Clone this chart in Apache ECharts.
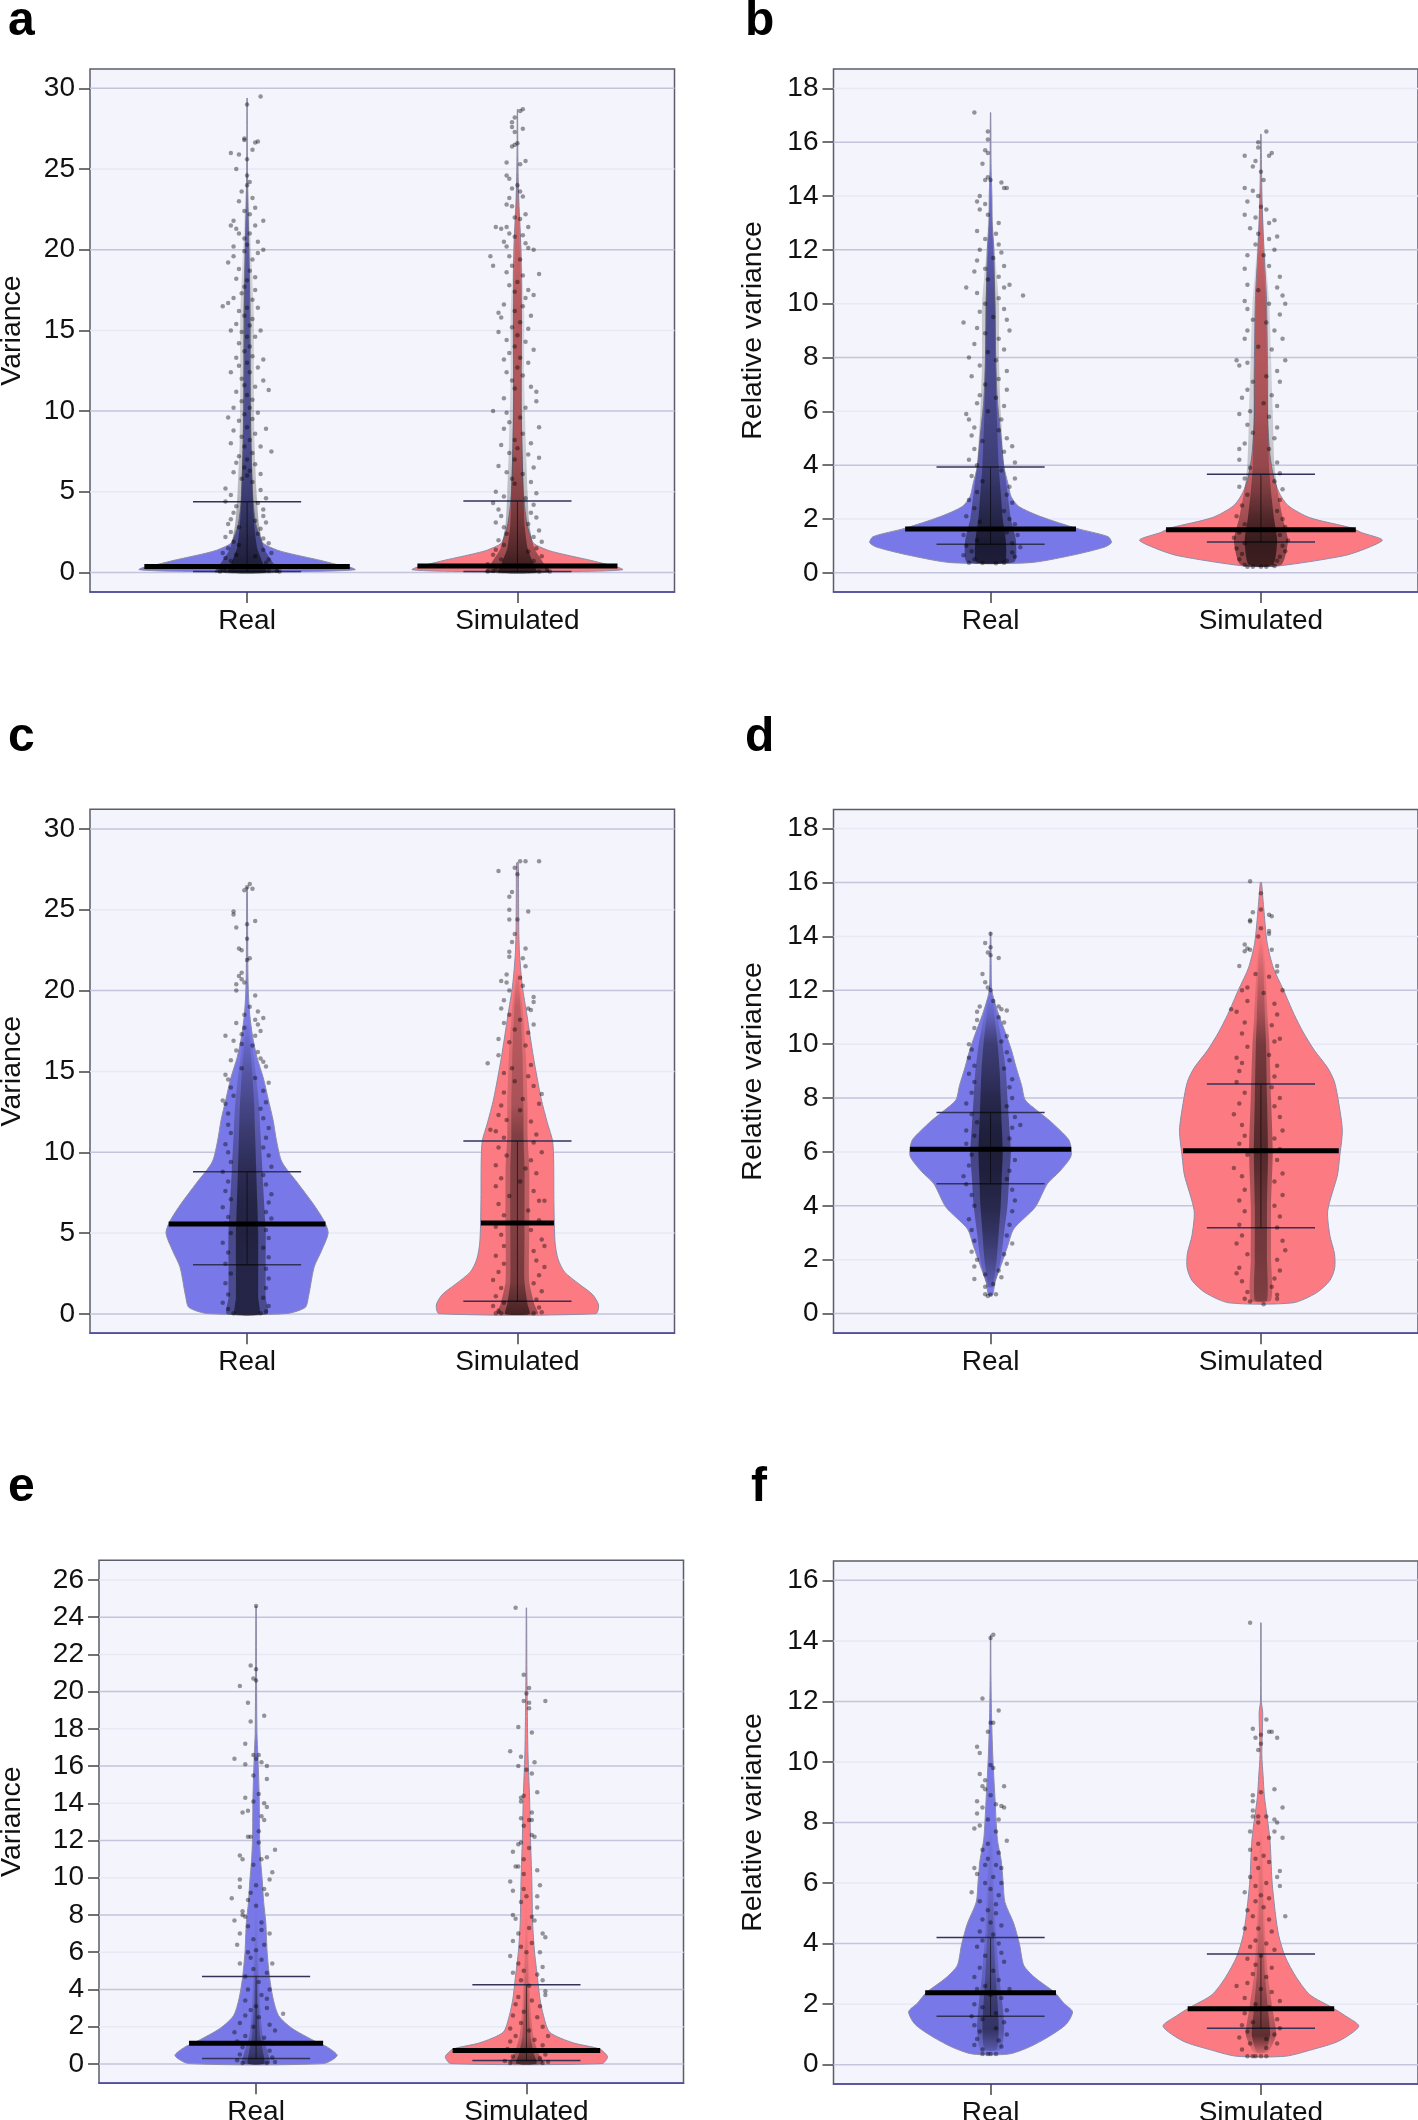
<!DOCTYPE html>
<html>
<head>
<meta charset="utf-8">
<title>Variance violins</title>
<script src="https://cdn.jsdelivr.net/npm/echarts@6/dist/echarts.min.js"></script>
<style>
html, body { margin: 0; padding: 0; background: #fff; }
#chart { width: 1418px; height: 2120px; }
</style>
</head>
<body>
<div id="chart"></div>
<script>
const categories = ['Real', 'Simulated']

// tick labels per panel, and which of them have the darker grid line
const ticksVar30 = [0, 5, 10, 15, 20, 25, 30]
const majorVar30 = [0, 10, 20, 30]
const ticksRel18 = [0, 2, 4, 6, 8, 10, 12, 14, 16, 18]
const majorRel18 = [0, 4, 8, 12, 16]
const ticksVar26 = [0, 2, 4, 6, 8, 10, 12, 14, 16, 18, 20, 22, 24, 26]
const majorVar26 = [0, 4, 8, 12, 16, 20, 24]
const ticksRel16 = [0, 2, 4, 6, 8, 10, 12, 14, 16]
const majorRel16 = [0, 4, 8, 12, 16]

// violin outlines: [value, half width in category units]
const aRealShape = [[0.03,0.05],[0.08,0.3],[0.17,0.4],[0.3,0.385],[0.5,0.33],[0.75,0.27],[0.97,0.21],[1.2,0.15],[1.39,0.11],[1.8,0.06],[2.4,0.043],[3,0.032],[4,0.024],[5,0.02],[7,0.016],[10,0.012],[13,0.011],[16,0.01],[20,0.007],[23,0.003],[26,0.001],[29.4,0.0005]]
const aSimShape = [[0.03,0.05],[0.08,0.3],[0.17,0.39],[0.3,0.375],[0.5,0.33],[0.75,0.27],[0.97,0.21],[1.2,0.15],[1.39,0.11],[1.8,0.06],[2.4,0.045],[3,0.035],[4,0.027],[5,0.022],[7,0.018],[10,0.014],[15,0.015],[20,0.013],[23,0.005],[25,0.002],[28.7,0.0005]]
const bRealShape = [[0.375,0.144],[0.64,0.296],[0.95,0.42],[1.12,0.447],[1.34,0.435],[1.65,0.318],[2.09,0.185],[2.46,0.105],[2.83,0.076],[3.33,0.064],[3.95,0.049],[5.2,0.037],[6.4,0.025],[8,0.019],[10,0.016],[12,0.012],[13,0.006],[14,0.005],[15,0.002],[17.1,0.0006]]
const bSimShape = [[0.25,0.06],[0.64,0.31],[0.95,0.4],[1.22,0.449],[1.5,0.37],[1.66,0.337],[2.05,0.18],[2.5,0.1],[3,0.066],[3.6,0.046],[4.4,0.033],[5.65,0.025],[7.2,0.025],[8.8,0.023],[10.3,0.02],[11.9,0.0115],[13.5,0.005],[14.4,0.003],[16.3,0.0006]]
const cRealShape = [[0.02,0.144],[0.4,0.215],[1.07,0.227],[2.9,0.248],[3.9,0.275],[5,0.3],[5.75,0.285],[6.8,0.245],[8.1,0.187],[9.4,0.129],[10.7,0.109],[12,0.096],[13.3,0.078],[14.6,0.06],[15.9,0.036],[17.2,0.02],[18.5,0.01],[19.8,0.005],[21.1,0.003],[23.7,0.002],[26.4,0.001]]
const cSimShape = [[0.02,0.29],[0.55,0.3],[1.2,0.278],[1.85,0.228],[2.6,0.174],[3.4,0.15],[4.45,0.139],[6.8,0.135],[9.4,0.134],[10.7,0.13],[11.75,0.112],[13.3,0.088],[15.9,0.059],[18.5,0.035],[20.3,0.018],[22.2,0.008],[23.7,0.005],[26.3,0.004],[27.9,0.003]]
const dRealShape = [[0.7,0.008],[1.17,0.016],[1.83,0.04],[2.5,0.063],[3.15,0.086],[3.95,0.165],[4.82,0.21],[5.27,0.255],[5.8,0.296],[6.14,0.298],[6.47,0.288],[7.13,0.222],[7.53,0.173],[7.93,0.128],[8.46,0.115],[9.12,0.095],[9.78,0.077],[10.45,0.054],[11.1,0.03],[11.64,0.013],[12.04,0.004],[13.1,0.002],[14.15,0.001]]
const dSimShape = [[0.4,0.118],[0.77,0.205],[1.23,0.255],[1.7,0.273],[2.23,0.272],[2.9,0.255],[3.82,0.247],[5.14,0.283],[5.8,0.291],[6.8,0.301],[7.8,0.288],[8.6,0.272],[9.12,0.247],[9.78,0.197],[10.45,0.156],[11.1,0.123],[12.04,0.082],[12.83,0.046],[13.76,0.023],[15.08,0.01],[16,0.002]]
const eRealShape = [[0.02,0.25],[0.45,0.3],[0.9,0.264],[1.24,0.215],[1.92,0.132],[2.6,0.083],[3.5,0.063],[4.63,0.05],[5.99,0.041],[7.57,0.036],[8.7,0.028],[9.83,0.023],[10.97,0.0165],[12.1,0.013],[14.36,0.0115],[16.6,0.0066],[17.75,0.0033],[21.1,0.0016],[24.6,0.0006]]
const eSimShape = [[0.02,0.28],[0.38,0.3],[0.79,0.272],[1.13,0.173],[1.7,0.086],[2.6,0.063],[3.5,0.05],[4.63,0.041],[6,0.03],[7.57,0.023],[9.83,0.02],[12.1,0.015],[14.36,0.0115],[16.6,0.0058],[18.9,0.0033],[21.1,0.0016],[24.5,0.0006]]
const fRealShape = [[0.35,0.066],[0.57,0.14],[0.92,0.214],[1.34,0.28],[1.75,0.303],[2.03,0.271],[2.38,0.238],[2.87,0.165],[3.28,0.123],[3.98,0.107],[4.67,0.0855],[5.37,0.053],[6.07,0.046],[6.76,0.039],[7.46,0.025],[8.85,0.016],[10.24,0.008],[11.63,0.0033],[13,0.0012],[14.2,0.0006]]
const fSimShape = [[0.28,0.09],[0.5,0.19],[0.78,0.288],[1.27,0.362],[1.61,0.313],[1.89,0.263],[2.31,0.181],[2.87,0.132],[3.56,0.09],[4.26,0.066],[4.95,0.054],[6.07,0.041],[7.46,0.033],[8.85,0.013],[9.54,0.008],[10.24,0.0033],[11.63,0.0066],[12,0.0016],[14.6,0.0005]]

// quartile and median lines: [q1, median, q3, median half width]
const aRealStats = [0.05, 0.36, 4.38, 0.38]
const aSimStats = [0.05, 0.4, 4.43, 0.37]
const bRealStats = [1.06, 1.63, 3.93, 0.316]
const bSimStats = [1.14, 1.6, 3.66, 0.351]
const cRealStats = [3.05, 5.57, 8.8, 0.29]
const cSimStats = [0.78, 5.63, 10.7, 0.135]
const dRealStats = [4.82, 6.1, 7.46, 0.298]
const dSimStats = [3.19, 6.04, 8.52, 0.288]
const eRealStats = [0.29, 1.11, 4.7, 0.248]
const eSimStats = [0.18, 0.72, 4.25, 0.273]
const fRealStats = [1.6, 2.38, 4.2, 0.242]
const fSimStats = [1.2, 1.85, 3.66, 0.271]

// the overplotted middle of each dot cloud, too dense to read one dot at a time:
// [value, half width, darkness]
const aRealCore = [[0,0.095,0.95],[0.5,0.08,0.95],[1.5,0.05,0.85],[3,0.035,0.7],[5,0.028,0.55],[8,0.022,0.4],[12,0.02,0.35],[16,0.02,0.35],[20,0.012,0.25],[23,0.006,0.15],[25,0.002,0]]
const aSimCore = [[0,0.095,0.95],[0.5,0.08,0.95],[1.5,0.05,0.8],[3,0.035,0.65],[5,0.03,0.5],[8,0.025,0.35],[12,0.02,0.3],[16,0.02,0.3],[20,0.012,0.2],[24,0.005,0.1],[26,0.002,0]]
const bRealCore = [[0.4,0.07,0.95],[1.2,0.075,1],[2,0.06,0.85],[3,0.05,0.7],[4,0.04,0.55],[6,0.03,0.45],[8,0.025,0.4],[10,0.025,0.4],[12,0.012,0.25],[14,0.004,0.1],[15,0.002,0]]
const bSimCore = [[0.3,0.06,0.95],[1.2,0.08,1],[2,0.065,0.85],[3,0.05,0.6],[4,0.04,0.45],[6,0.035,0.35],[8,0.03,0.3],[10,0.025,0.3],[12,0.012,0.2],[14,0.005,0.1],[15,0.002,0]]
const cRealCore = [[0,0.06,0.85],[1,0.055,0.85],[3,0.055,0.85],[5,0.055,0.9],[7,0.05,0.85],[9,0.045,0.75],[11,0.04,0.6],[13,0.035,0.45],[15,0.025,0.3],[17,0.012,0.12],[18,0.004,0]]
const cSimCore = [[0,0.06,0.9],[0.6,0.05,0.8],[2,0.035,0.6],[5,0.035,0.55],[9,0.035,0.55],[11,0.03,0.55],[13,0.03,0.35],[16,0.025,0.3],[19,0.015,0.25],[21,0.004,0.05]]
const dRealCore = [[1,0.01,0.2],[2,0.03,0.45],[3,0.04,0.65],[4,0.05,0.8],[5,0.055,0.9],[6,0.06,0.95],[7,0.055,0.9],[8,0.05,0.8],[9,0.045,0.65],[10,0.035,0.55],[11,0.02,0.2],[12,0.004,0]]
const dSimCore = [[0.5,0.03,0.55],[2,0.03,0.6],[4,0.03,0.65],[6,0.035,0.8],[8,0.03,0.7],[10,0.025,0.6],[11,0.02,0.4],[13,0.012,0.15],[14,0.004,0]]
const eRealCore = [[0.02,0.04,0.8],[0.6,0.035,0.6],[1.5,0.02,0.45],[3,0.012,0.3],[5,0.008,0.15],[7,0.005,0.05],[9,0.002,0]]
const eSimCore = [[0.02,0.05,0.85],[0.6,0.035,0.65],[1.5,0.02,0.4],[3,0.012,0.3],[5,0.008,0.15],[7,0.004,0.05],[9,0.002,0]]
const fRealCore = [[0.5,0.03,0.25],[1.2,0.04,0.65],[2,0.035,0.6],[3,0.025,0.4],[4.5,0.015,0.25],[6,0.01,0.1],[8,0.004,0]]
const fSimCore = [[0.4,0.02,0.15],[1,0.045,0.75],[1.8,0.035,0.55],[3,0.02,0.35],[4.5,0.012,0.2],[6,0.008,0.1],[8,0.003,0]]

// dots: [jitter in hundredths of a category, value]
const aRealDots = [[5,29.5],[0,29],[-1,26.9],[-1,26.8],[4,26.7],[3,26.65],[-6,26],[2,26.2],[-3,25.9],[0,25.6],[-4,25],[0,24.6],[1,24.2],[0,24],[-2,23.6],[-3,23],[2,23.2],[3,22.6],[-1,22.4],[1,22.2],[-5,21.8],[6,21.8],[-6,21.5],[-4,21.3],[3,21.5],[-3,21],[1,21],[-1,20.7],[4,20.5],[-5,20.2],[6,20],[0,20.3],[-1,19.9],[-5,19.6],[4,19.8],[-7,19.2],[2,19.4],[-3,18.8],[1,18.7],[-4,18.2],[3,18.3],[0,18.1],[-1,17.7],[3,17.5],[-2,17.3],[-9,16.5],[-7,16.7],[-5,17],[2,16.9],[0,16.4],[-3,16.2],[4,16.4],[-1,15.9],[2,15.7],[-4,15.4],[1,15.3],[5,15],[-2,14.9],[-6,15],[0,14.6],[3,14.6],[-3,14.2],[1,14],[-1,13.7],[6,13.2],[-4,13.3],[2,13.4],[0,13],[-3,12.8],[4,12.7],[-6,12.4],[1,12.4],[-2,12],[6,11.9],[-1,11.6],[3,11.5],[8,11.3],[-4,11.2],[0,11],[-2,10.6],[2,10.7],[-5,10.2],[1,10.2],[-1,9.8],[4,9.9],[-7,9.6],[2,9.5],[-3,9.4],[0,9],[7,8.9],[-5,8.8],[3,8.6],[-2,8.4],[1,8.2],[-6,8],[5,7.8],[-1,7.8],[9,7.5],[2,7.4],[-3,7.2],[0,7],[-4,6.8],[3,6.7],[-1,6.5],[1,6.3],[-5,6.2],[5,6.1],[0,6],[-2,5.8],[2,5.6],[-8,5.2],[5,5.1],[-6,4.8],[7,4.6],[-8,4.4],[4,4.3],[-4,4.1],[6,3.9],[-5,3.7],[6,3.5],[-6,3.3],[3,3.2],[-7,3],[7,3.1],[-3,2.8],[5,2.7],[-6,2.5],[4,2.4],[-8,2.2],[6,2.1],[-5,1.9],[8,1.8],[-3,1.7],[-7,1.5],[6,1.4],[-9,1.2],[9,1.2],[-4,1.1],[3,1],[-8,0.9],[8,0.8],[-6,0.7],[7,0.6],[-10,0.4],[10,0.4],[-9,0.2],[11,0.1],[-8,0.1],[8,0.1],[12,0.05],[-10,0.05]]
const aSimDots = [[2,28.7],[1,28.6],[-1,28.2],[-2,27.9],[-2,27.6],[2,27.5],[-1,27.3],[-1,26.5],[-2,26.4],[0,26.6],[3,25.5],[-4,25.4],[1,25.3],[-4,24.6],[-3,24.4],[0,24],[-2,23.8],[1,23.6],[-3,23.2],[2,23.3],[-4,22.8],[-2,22.7],[3,22.2],[-1,22],[1,21.9],[-8,21.4],[-6,21.3],[-4,21.4],[-3,21],[4,21.4],[-1,20.8],[2,20.9],[-5,20.5],[3,20.4],[-4,20.2],[6,20],[4,20.1],[-10,19.6],[-9,19],[-3,19.6],[1,19.4],[-2,19],[8,18.5],[-4,18.6],[2,18.4],[0,18],[-3,17.8],[4,17.5],[-1,17.4],[6,17.2],[3,17],[-5,16.6],[-7,16.1],[2,16.5],[-1,16.2],[5,15.9],[-6,15.8],[1,15.5],[-2,15.2],[4,15.1],[-7,14.9],[0,14.7],[-4,14.4],[3,14.3],[-1,14],[6,13.8],[-3,13.6],[1,13.3],[-5,13.2],[4,13],[0,12.7],[-4,12.4],[2,12.2],[-2,11.9],[5,11.5],[7,11.2],[-1,11.4],[-5,10.8],[7,10.6],[-9,10],[3,10.2],[-4,9.9],[1,9.6],[-3,9.3],[8,9],[-5,8.9],[2,8.6],[-1,8.2],[5,8],[-6,7.9],[0,7.7],[-3,7.4],[4,7.3],[8,7.1],[-1,7],[-7,6.6],[6,6.5],[-4,6.2],[2,6.1],[-2,5.8],[5,5.6],[-1,5.5],[-8,5],[7,4.9],[-5,4.7],[3,4.6],[-9,4.3],[6,4.2],[-7,3.9],[5,3.7],[-6,3.5],[7,3.4],[-8,3.1],[4,3],[-5,2.8],[8,2.6],[-4,2.4],[6,2.2],[-7,2],[9,1.9],[-5,1.7],[7,1.5],[-8,1.4],[4,1.3],[-9,1.1],[9,1],[-6,0.8],[6,0.7],[-11,0.5],[10,0.4],[-8,0.2],[11,0.15],[-9,0.08],[8,0.05],[-11,0.05],[12,0.05]]
const bRealDots = [[-6,17.1],[-1,16.4],[-1,16.1],[-2,15.7],[-1,15.6],[-3,15.2],[-1,14.7],[-2,14.6],[0,14.6],[4,14.5],[5,14.3],[6,14.3],[-4,14],[-5,13.8],[-2,13.7],[-4,13.5],[-1,13.3],[3,13],[-5,12.7],[2,12.6],[-2,12.4],[3,12.2],[-4,12],[4,11.9],[-5,11.6],[1,11.7],[-2,11.3],[5,11.4],[-6,11.2],[3,11],[-1,10.9],[-9,10.6],[7,10.7],[5,10.6],[-5,10.4],[12,10.3],[3,10.2],[-2,10],[5,9.8],[-4,9.7],[1,9.5],[-10,9.3],[6,9.4],[-5,9.1],[7,9],[-2,8.9],[3,8.7],[-6,8.5],[5,8.3],[-1,8.2],[-8,8],[2,7.9],[-4,7.7],[6,7.5],[-7,7.3],[3,7.2],[-2,7],[6,6.8],[-4,6.6],[2,6.5],[-5,6.3],[5,6.2],[-1,6],[-9,5.9],[-8,5.7],[4,5.7],[-6,5.4],[3,5.3],[-7,5.1],[6,5],[-3,4.9],[8,4.7],[-6,4.6],[5,4.5],[-8,4.2],[9,4.1],[-5,4],[4,3.8],[-7,3.6],[9,3.5],[-3,3.4],[7,3.2],[-5,3],[6,2.9],[-8,2.7],[8,2.6],[-6,2.4],[5,2.3],[-9,2.1],[7,2],[-4,1.9],[9,1.8],[-8,1.6],[6,1.5],[-10,1.4],[10,1.4],[-5,1.2],[8,1.1],[-9,1],[11,0.95],[-7,0.8],[8,0.75],[-10,0.65],[9,0.6],[-6,0.5],[6,0.45],[-8,0.37],[5,0.37],[-3,0.36],[2,0.35]]
const bSimDots = [[2,16.4],[-1,16],[-1,15.8],[4,15.6],[-6,15.5],[3,15.5],[-2,15.3],[-3,15.1],[0,14.9],[1,14.6],[-6,14.3],[-3,14.2],[-1,14],[-5,13.8],[0,13.6],[2,13.5],[-6,13.3],[-2,13.2],[3,13],[5,13.1],[-4,12.8],[-1,12.6],[3,12.4],[6,12.5],[-2,12.2],[5,12],[-5,11.8],[1,11.8],[-6,11.3],[3,11.4],[7,11],[-5,10.7],[6,10.6],[-1,10.5],[8,10.3],[-6,10.1],[9,10],[3,10],[-5,9.8],[7,9.6],[-3,9.4],[2,9.3],[-5,9],[5,9],[8,8.7],[-6,8.7],[-1,8.4],[4,8.3],[9,7.9],[-9,7.9],[-8,7.7],[-5,7.8],[6,7.5],[2,7.3],[-3,7.1],[7,7.1],[-5,6.8],[4,6.6],[-7,6.5],[1,6.3],[6,6.2],[-4,6],[-8,5.9],[3,5.8],[-5,5.5],[6,5.4],[-3,5.2],[5,5],[-6,4.8],[-8,4.6],[3,4.6],[-8,4.2],[6,4.1],[-4,3.9],[7,3.7],[-6,3.5],[5,3.4],[-8,3.2],[8,3.1],[-5,2.9],[7,2.7],[-7,2.5],[6,2.3],[-9,2.1],[8,2],[-6,1.8],[9,1.7],[-8,1.5],[7,1.4],[-10,1.3],[10,1.2],[-6,1.1],[8,1],[-9,0.9],[9,0.8],[-7,0.7],[7,0.6],[-8,0.5],[6,0.45],[-6,0.3],[5,0.25],[-3,0.22],[2,0.22],[-5,0.22],[0,0.22]]
const cRealDots = [[1,26.6],[0,26.4],[2,26.3],[-1,26.2],[-5,24.9],[-5,24.7],[3,24.3],[-4,23.9],[0,24.1],[0,23.2],[-3,22.6],[-2,22.5],[1,22],[0,21.9],[-2,21.1],[-3,20.9],[-2,20.7],[-1,20.5],[-4,20.4],[-4,20],[3,19.7],[1,19],[4,18.7],[-1,18.5],[6,18.3],[3,18.2],[-4,18],[4,17.9],[-1,17.7],[5,17.5],[-8,17.2],[-2,17.3],[3,17.2],[-5,16.9],[-2,16.7],[2,16.6],[-4,16.3],[4,16.2],[5,15.8],[-6,15.7],[6,15.6],[7,15.3],[-2,15.2],[-8,14.8],[-7,14.5],[8,14.3],[3,14.6],[-6,14],[6,13.8],[-5,13.5],[-9,13.2],[-8,13],[7,13.1],[5,12.7],[-7,12.4],[6,12.1],[-7,11.7],[8,11.5],[-6,11.2],[7,10.9],[-8,10.5],[6,10.3],[-7,10],[8,9.8],[-6,9.4],[9,9.1],[-9,8.8],[6,8.6],[-7,8.2],[7,8],[-8,7.6],[9,7.4],[-6,7.1],[8,6.9],[-9,6.6],[7,6.3],[-7,6],[9,5.9],[-8,5.6],[7,5.2],[-6,5],[8,4.7],[-9,4.4],[6,4.1],[-7,3.8],[8,3.5],[-8,3.1],[7,2.8],[-6,2.5],[8,2.2],[-8,1.9],[7,1.6],[-7,1.2],[6,1],[-9,0.7],[8,0.5],[-7,0.3],[7,0.15],[-5,0.05],[5,0.05]]
const cSimDots = [[1,28],[8,28],[3,28],[-7,27.4],[-1,27.6],[0,27.2],[-2,26.1],[-3,25.8],[-3,25],[4,24.9],[-3,24.4],[0,24.4],[-1,23.5],[-2,23],[3,22.6],[-3,22.4],[-3,22.1],[2,22],[3,21.5],[-4,21],[1,20.8],[-6,20.6],[-4,20.5],[2,20.3],[-3,20],[6,19.6],[-5,19.4],[6,19.3],[-6,18.9],[4,18.9],[5,18.8],[-3,18.5],[1,18.2],[-5,18],[6,17.9],[-1,17.6],[4,17.4],[-7,17],[-3,16.8],[3,16.6],[-7,16],[-11,15.5],[5,15.4],[-2,15.2],[-5,14.9],[4,14.7],[-1,14.4],[6,14.1],[9,13.6],[-5,13.7],[2,13.3],[-6,12.9],[8,13],[1,12.6],[-7,12.3],[-4,12],[5,11.9],[-10,11.4],[-8,11.3],[7,11.1],[-5,10.9],[6,10.6],[-7,10.3],[9,10],[-4,9.8],[5,9.5],[-8,9.2],[3,9],[7,8.7],[-6,8.4],[1,8.2],[-8,7.9],[6,7.6],[-3,7.3],[8,7],[-7,6.8],[10,7],[4,6.4],[-5,6.1],[8,5.8],[-8,5.4],[5,5.2],[-6,4.9],[9,4.6],[10,4.2],[-5,4.2],[6,3.9],[-8,3.6],[7,3.3],[-5,3.1],[10,2.9],[-7,2.6],[8,2.4],[-9,2.1],[6,1.9],[-6,1.6],[9,1.4],[-8,1.1],[7,0.9],[-5,0.7],[-9,0.5],[8,0.4],[-7,0.2],[9,0.1],[-6,0.05],[6,0.05],[-8,0.05]]
const dRealDots = [[-2,13.75],[0,14.1],[0,13.6],[-1,13.4],[0,13.3],[3,13.2],[-3,12.6],[-2,12.3],[0,12],[-1,12.1],[1,11.6],[3,11.4],[-4,11.4],[-5,11.2],[4,11.3],[6,11.25],[-5,10.9],[3,11],[5,10.8],[-6,10.6],[6,10.3],[-8,10],[4,10.1],[-7,9.8],[6,9.7],[-8,9.5],[7,9.4],[-6,9.2],[5,9.1],[-8,8.9],[8,8.7],[-6,8.6],[7,8.4],[-7,8.2],[8,8],[-9,7.8],[6,7.7],[-7,7.4],[9,7.3],[-5,7.1],[11,7],[8,6.9],[-9,6.8],[-6,6.6],[7,6.5],[-9,6.3],[8,6.1],[-7,5.9],[9,5.7],[-8,5.5],[7,5.3],[-10,5.1],[6,5],[-9,4.8],[8,4.6],[-7,4.4],[9,4.2],[-6,4],[8,3.8],[-8,3.5],[7,3.3],[-7,3.1],[6,2.9],[-6,2.7],[8,2.6],[-7,2.3],[5,2.2],[-5,2],[6,1.85],[-6,1.75],[3,1.6],[-2,1.45],[4,1.35],[-6,1.28],[1,1.1],[-2,1],[-2,0.72],[0,0.7],[-1,0.65],[2,0.72]]
const dSimDots = [[-4,16.05],[0,15.6],[0,15],[-3,14.9],[3,14.8],[4,14.75],[-4,14.6],[-4,14.55],[0,14.3],[3,14.2],[3,14.1],[-1,14],[-6,13.7],[-5,13.55],[-6,13.45],[-4,13.5],[4,13.5],[-8,12.9],[6,12.9],[6,12.7],[-2,12.6],[3,12.5],[-5,12.1],[8,12],[-7,12],[1,11.9],[-5,11.6],[5,11.5],[-11,11.3],[-9,11.2],[6,11.1],[-6,10.8],[4,10.7],[-7,10.4],[7,10.2],[5,10.1],[-5,9.9],[-9,9.5],[3,9.6],[-7,9.3],[6,9.2],[-8,9],[5,8.8],[-9,8.6],[4,8.4],[-6,8.2],[7,8],[-8,7.8],[5,7.7],[-10,7.4],[7,7.3],[-7,7],[8,6.8],[-6,6.6],[5,6.5],[-8,6.3],[7,6.1],[-5,5.9],[6,5.7],[-10,5.4],[8,5.2],[-7,5.1],[5,4.9],[-6,4.6],[8,4.4],[-8,4.2],[5,4],[-6,3.8],[7,3.6],[-8,3.3],[6,3.2],[-7,2.9],[8,2.7],[-9,2.6],[9,2.35],[-5,2.2],[6,2],[-8,1.7],[7,1.6],[-9,1.5],[5,1.3],[-7,1.2],[4,1],[-5,0.8],[6,0.7],[-6,0.55],[-4,0.45],[1,0.35],[6,0.55]]
const eRealDots = [[0,24.6],[-2,21.4],[0,21.2],[-1,20.7],[0,20.6],[-6,20.3],[-3,19.4],[3,18.7],[-2,18.4],[-4,17.2],[-1,16.6],[1,16.6],[-8,16.4],[0,16.4],[2,16.2],[-4,16.1],[4,16],[-1,15.5],[4,15.3],[-4,14.3],[-1,14.1],[1,14.5],[3,14],[4,13.8],[-5,13.5],[-3,13.6],[2,13.3],[3,13.1],[1,12.5],[-3,12.2],[-2,12.2],[1,11.9],[7,11.5],[-6,11.2],[-5,11],[4,11.1],[2,11],[-1,10.7],[6,10.3],[5,9.9],[-6,9.9],[0,9.6],[-6,9.5],[3,9.4],[-2,9.2],[4,9.1],[-9,8.9],[-3,8.8],[0,8.5],[-5,8.2],[-5,8],[-4,7.9],[2,7.6],[-8,7.7],[-3,7.4],[2,7.2],[-6,7],[5,7],[-1,6.7],[-7,6.4],[3,6.4],[0,6.1],[-3,6],[-2,5.7],[2,5.6],[-6,5.4],[6,5.4],[-1,5.1],[4,4.9],[-4,4.7],[1,4.4],[5,4],[-3,4],[2,3.7],[4,3.5],[-4,3.4],[0,3.1],[4,3],[-2,2.9],[10,2.7],[-4,2.6],[1,2.5],[-6,2.2],[5,2.1],[-1,2],[7,1.8],[-8,1.7],[-4,1.5],[3,1.4],[-7,1.2],[6,1.1],[-5,0.9],[5,0.7],[-6,0.5],[6,0.35],[-7,0.2],[7,0.1],[-5,0.05],[4,0.05]]
const eSimDots = [[-4,24.5],[-1,20.9],[1,20.2],[0,19.9],[-1,19.5],[7,19.5],[1,19.4],[1,19.1],[-3,18.1],[2,17.8],[-6,16.8],[-2,16.5],[3,16.2],[-3,16],[0,15.8],[2,15.6],[4,14.6],[-2,14.3],[-1,14.4],[-2,14.1],[2,13.5],[-2,13.2],[1,13.1],[2,13.1],[-1,12.8],[2,12.3],[3,12.2],[-2,11.9],[-3,11.8],[1,11.6],[-5,11.4],[-1,11],[-3,10.6],[-4,10.6],[4,10.4],[-1,10.2],[-6,9.8],[5,9.6],[-5,9.3],[-1,9.4],[0,9],[4,9],[-2,8.7],[4,8.4],[2,7.9],[-5,8],[-4,7.8],[3,7.7],[1,7.3],[6,7],[-3,7],[7,6.8],[-5,6.6],[2,6.5],[-2,6.3],[5,6],[0,6],[-6,5.8],[-3,5.4],[6,5.2],[-1,5],[4,4.8],[-5,4.9],[6,4.5],[-2,4.5],[1,4.2],[7,3.9],[7,3.7],[-3,3.6],[2,3.4],[-4,3.2],[5,3.1],[-1,2.8],[-5,2.6],[4,2.5],[-2,2.2],[6,2],[-6,1.9],[1,1.8],[8,1.5],[-4,1.5],[3,1.3],[-6,1.2],[6,1],[-7,0.8],[-3,0.7],[7,0.5],[-5,0.4],[5,0.3],[-8,0.15],[8,0.1],[-6,0.05],[6,0.05]]
const fRealDots = [[1,14.2],[0,14.1],[-3,12.1],[3,11.7],[0,11.3],[1,11.3],[-1,11],[-5,10.5],[-4,10.3],[0,9.9],[1,9.8],[-4,9.6],[-2,9.4],[-3,9.2],[5,9.2],[-2,9.1],[0,8.9],[-5,8.7],[-3,8.5],[2,8.6],[5,8.5],[4,8.55],[-5,8.3],[-1,8.1],[3,8.1],[-6,7.8],[-4,7.9],[2,7.7],[6,7.4],[-1,7.3],[-3,7.1],[3,7],[-1,6.8],[-2,6.6],[2,6.6],[-6,6.5],[4,6.5],[-5,6.3],[1,6.2],[4,6],[-2,6],[0,5.8],[-7,5.7],[3,5.6],[-4,5.4],[2,5.3],[-1,5.1],[2,5],[-3,4.8],[0,4.7],[4,4.6],[-4,4.4],[1,4.3],[-3,4.1],[3,4],[-5,3.9],[4,3.7],[-2,3.6],[5,3.4],[-4,3.2],[1,3.1],[-6,2.9],[3,2.8],[-2,2.6],[7,2.5],[-5,2.5],[0,2.3],[4,2.2],[-6,2],[-3,1.9],[6,1.8],[2,1.7],[-7,1.6],[-3,1.5],[5,1.4],[-6,1.3],[2,1.2],[-4,1.1],[6,1],[-5,0.85],[3,0.8],[-6,0.65],[4,0.6],[-3,0.5],[0,0.35],[-3,0.35],[2,0.35],[-1,0.35]]
const fSimDots = [[-4,14.6],[2,11.4],[-3,11.1],[-2,10.8],[3,11],[4,11],[6,10.8],[0,10.9],[-1,10.4],[0,10.6],[5,9.1],[-3,8.9],[-3,8.7],[0,9],[-3,8.4],[-3,8.2],[8,8.5],[-1,8.2],[2,8.2],[5,8.1],[-1,8],[6,8],[-4,7.7],[5,7.7],[3,7.5],[8,7.5],[-1,7.3],[-4,7.1],[1,6.9],[-2,6.8],[3,6.7],[-1,6.5],[7,6.4],[6,6.2],[-4,6.2],[2,6],[-2,5.9],[7,5.9],[0,5.6],[-6,5.7],[3,5.5],[-2,5.4],[-5,5.1],[1,5.2],[9,4.9],[-3,4.9],[3,4.8],[-1,4.5],[-6,4.5],[4,4.4],[-2,4.1],[2,4],[-4,3.9],[5,3.8],[0,3.6],[-5,3.5],[-2,3.3],[4,3.2],[-3,3],[2,2.9],[-5,2.7],[-9,2.6],[0,2.5],[4,2.4],[-6,2.2],[7,2.1],[-2,2],[3,1.9],[-6,1.7],[6,1.5],[-3,1.4],[-7,1.3],[7,1.2],[-5,1.1],[5,1],[-8,0.9],[2,0.85],[-4,0.7],[6,0.7],[-7,0.5],[2,0.55],[-5,0.28],[-2,0.28],[0,0.28],[2,0.28],[-3,0.28]]

const BLUE = '#7878e8'
const RED = '#fc7b82'
const FONT = '"Liberation Sans", Arial, sans-serif'

const panels = [
  { letter: 'a', lx: 8, ly: 46, left: 90, top: 69, h: 523, ymin: -1.215, ymax: 31.2, ticks: ticksVar30, major: majorVar30, name: 'Variance', gap: 63,
    real: [aRealShape, aRealStats, aRealDots, aRealCore], sim: [aSimShape, aSimStats, aSimDots, aSimCore] },
  { letter: 'b', lx: 745, ly: 46, left: 833.5, top: 69, h: 523, ymin: -0.714, ymax: 18.72, ticks: ticksRel18, major: majorRel18, name: 'Relative variance', gap: 66,
    real: [bRealShape, bRealStats, bRealDots, bRealCore], sim: [bSimShape, bSimStats, bSimDots, bSimCore] },
  { letter: 'c', lx: 8, ly: 762, left: 90, top: 809.2, h: 524, ymin: -1.19, ymax: 31.22, ticks: ticksVar30, major: majorVar30, name: 'Variance', gap: 63,
    real: [cRealShape, cRealStats, cRealDots, cRealCore], sim: [cSimShape, cSimStats, cSimDots, cSimCore] },
  { letter: 'd', lx: 745, ly: 762, left: 833.5, top: 809.6, h: 523.6, ymin: -0.727, ymax: 18.705, ticks: ticksRel18, major: majorRel18, name: 'Relative variance', gap: 66,
    real: [dRealShape, dRealStats, dRealDots, dRealCore], sim: [dSimShape, dSimStats, dSimDots, dSimCore] },
  { letter: 'e', lx: 8, ly: 1512, left: 99, top: 1560.2, h: 523, ymin: -1.037, ymax: 27.06, ticks: ticksVar26, major: majorVar26, name: 'Variance', gap: 72,
    real: [eRealShape, eRealStats, eRealDots, eRealCore], sim: [eSimShape, eSimStats, eSimDots, eSimCore] },
  { letter: 'f', lx: 751, ly: 1512, left: 833.5, top: 1561, h: 523, ymin: -0.638, ymax: 16.64, ticks: ticksRel16, major: majorRel16, name: 'Relative variance', gap: 66,
    real: [fRealShape, fRealStats, fRealDots, fRealCore], sim: [fSimShape, fSimStats, fSimDots, fSimCore] }
]

function gridLineSeries(i, p) {
  return {
    type: 'custom', coordinateSystem: 'cartesian2d', xAxisIndex: i, yAxisIndex: i, silent: true, z: 1,
    data: p.ticks.map(t => [0, t]),
    renderItem(params, api) {
      const v = api.value(1)
      const a = api.coord([-0.581, v])
      const b = api.coord([1.581, v])
      return {
        type: 'line',
        shape: { x1: a[0], y1: a[1], x2: b[0], y2: b[1] },
        style: { stroke: p.major.includes(v) ? '#c4c4dc' : '#e8e8f6', lineWidth: 1.5 }
      }
    }
  }
}

function violinSeries(i, cat, shape, color) {
  return {
    type: 'custom', coordinateSystem: 'cartesian2d', xAxisIndex: i, yAxisIndex: i, silent: true, z: 2,
    data: [[cat, shape[0][0]]],
    renderItem(params, api) {
      const left = shape.map(r => api.coord([cat - r[1], r[0]]))
      const right = shape.map(r => api.coord([cat + r[1], r[0]])).reverse()
      return { type: 'polygon', shape: { points: left.concat(right), smooth: 0.25 }, style: { fill: color, stroke: '#8c8ca6', lineWidth: 1 } }
    }
  }
}

function coreSeries(i, cat, core) {
  const top = core[core.length - 1][0]
  const bottom = core[0][0]
  const stops = core.slice().reverse().map(r => ({ offset: (top - r[0]) / (top - bottom), color: 'rgba(0,0,0,' + r[2] + ')' }))
  return {
    type: 'custom', coordinateSystem: 'cartesian2d', xAxisIndex: i, yAxisIndex: i, silent: true, z: 4,
    data: [[cat, bottom], [cat, top]],
    renderItem(params, api) {
      const scale = params.dataIndex === 0 ? 1.25 : 0.75
      const left = core.map(r => api.coord([cat - r[1] * scale, r[0]]))
      const right = core.map(r => api.coord([cat + r[1] * scale, r[0]])).reverse()
      return {
        type: 'polygon',
        shape: { points: left.concat(right), smooth: 0.2 },
        style: { fill: new echarts.graphic.LinearGradient(0, 0, 0, 1, stops), opacity: params.dataIndex === 0 ? 0.45 : 0.6 }
      }
    }
  }
}

function statSeries(i, cat, s) {
  const rows = [[s[0], 0.2, 1.5], [s[2], 0.2, 1.5], [s[1], s[3], 5]]
  return {
    type: 'custom', coordinateSystem: 'cartesian2d', xAxisIndex: i, yAxisIndex: i, silent: true, z: 3,
    data: rows.map(r => [cat, r[0]]),
    renderItem(params, api) {
      const r = rows[params.dataIndex]
      const a = api.coord([cat - r[1], r[0]])
      const b = api.coord([cat + r[1], r[0]])
      const children = [{
        type: 'line',
        shape: { x1: a[0], y1: a[1], x2: b[0], y2: b[1] },
        style: { stroke: r[2] > 2 ? '#000' : '#33335a', lineWidth: r[2] }
      }]
      if (params.dataIndex === 0) {
        const lo = api.coord([cat, s[0]])
        const hi = api.coord([cat, s[2]])
        children.push({ type: 'line', shape: { x1: lo[0], y1: lo[1], x2: hi[0], y2: hi[1] }, style: { stroke: 'rgba(0,0,0,0.6)', lineWidth: 1 } })
      }
      return { type: 'group', children }
    }
  }
}

function dotSeries(i, cat, dots) {
  return {
    type: 'scatter', xAxisIndex: i, yAxisIndex: i, silent: true, z: 5,
    symbolSize: 4.5,
    itemStyle: { color: 'rgba(0,0,0,0.5)' },
    data: dots.map(d => [cat + d[0] / 100, d[1]])
  }
}

const grid = [], xAxis = [], yAxis = [], series = [], graphic = []

panels.forEach((p, i) => {
  grid.push({ left: p.left, top: p.top, width: 584.5, height: p.h, outerBoundsMode: 'none', show: true, backgroundColor: '#f4f4fd', borderColor: '#5c5c6c', borderWidth: 1.5 })
  xAxis.push({
    type: 'value', gridIndex: i, min: -0.581, max: 1.581, splitLine: { show: false },
    axisLine: { onZero: false, lineStyle: { color: '#4c4ca8', width: 1.5 } },
    axisTick: { length: 11, customValues: [0, 1], lineStyle: { color: '#444', width: 1.5 } },
    axisLabel: { customValues: [0, 1], margin: 15, fontSize: 28, fontFamily: FONT, color: '#111', formatter: v => categories[v] }
  })
  yAxis.push({
    type: 'value', gridIndex: i, min: p.ymin, max: p.ymax, splitLine: { show: false },
    name: p.name, nameLocation: 'middle', nameGap: p.gap, nameTextStyle: { fontSize: 28.5, fontFamily: FONT, color: '#111' },
    axisLine: { show: false, onZero: false },
    axisTick: { show: true, length: 11, customValues: p.ticks, lineStyle: { color: '#444', width: 1.5 } },
    axisLabel: { customValues: p.ticks, margin: 15, fontSize: 28, fontFamily: FONT, color: '#111' }
  })
  graphic.push({ type: 'text', x: p.lx, y: p.ly, style: { text: p.letter, font: 'bold 48px ' + FONT, fill: '#000', textVerticalAlign: 'bottom' } })
  series.push(gridLineSeries(i, p))
  series.push(violinSeries(i, 0, p.real[0], BLUE), violinSeries(i, 1, p.sim[0], RED))
  series.push(statSeries(i, 0, p.real[1]), statSeries(i, 1, p.sim[1]))
  series.push(coreSeries(i, 0, p.real[3]), coreSeries(i, 1, p.sim[3]))
  series.push(dotSeries(i, 0, p.real[2]), dotSeries(i, 1, p.sim[2]))
})

const chart = echarts.init(document.getElementById('chart'), null, { renderer: 'canvas' })
chart.setOption({ animation: false, backgroundColor: '#fff', grid, xAxis, yAxis, series, graphic })
</script>
</body>
</html>
